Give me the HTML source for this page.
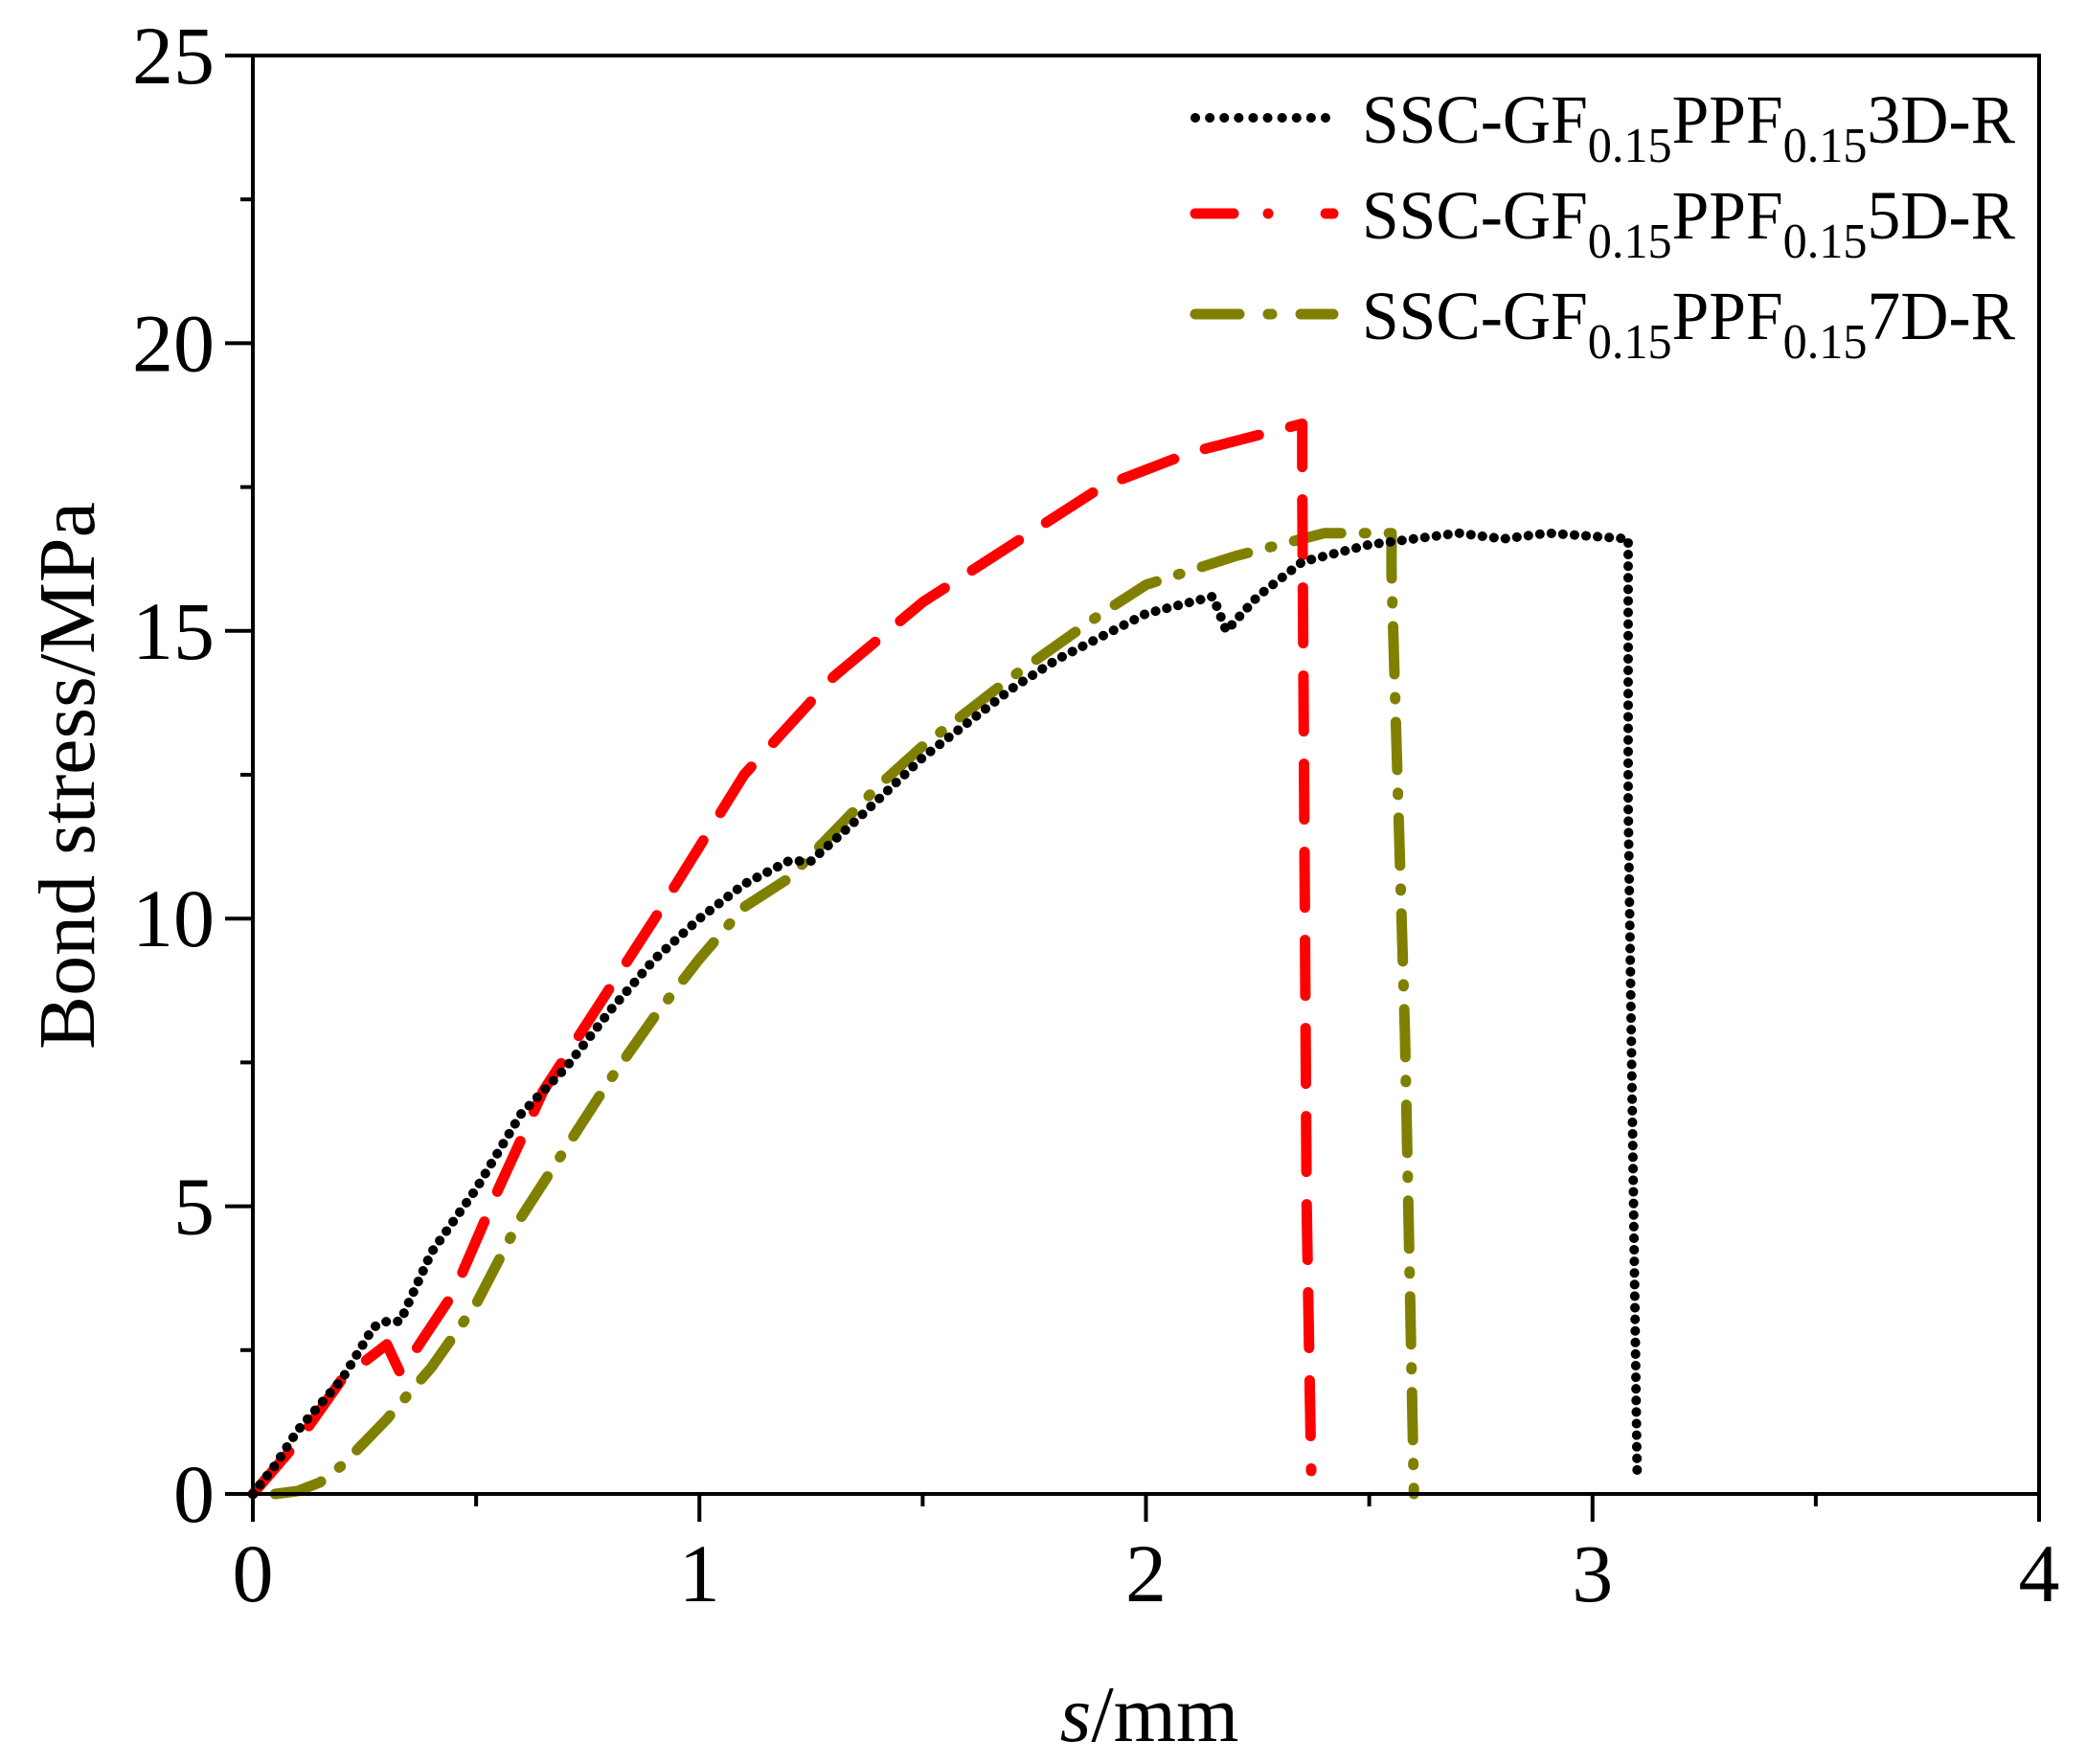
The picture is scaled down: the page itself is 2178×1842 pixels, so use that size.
<!DOCTYPE html>
<html><head><meta charset="utf-8"><style>
html,body{margin:0;padding:0;background:#fff;}
svg{display:block;font-family:"Liberation Serif",serif;}
</style></head><body>
<svg id="chart" width="2178" height="1842" viewBox="0 0 2178 1842" xmlns="http://www.w3.org/2000/svg">
<rect width="2178" height="1842" fill="#fff"/>
<g id="series"></g>
<g id="axes"></g>
<text transform="translate(98,810) rotate(-90)" text-anchor="middle" font-size="84">Bond stress/MPa</text>
<text x="1200" y="1818" text-anchor="middle" font-size="84"><tspan font-style="italic">s</tspan>/mm</text>
<g id="legend"></g>
</svg>
<script>
const xTicks=[0,1,2,3,4];
const yTicks=[0,5,10,15,20,25];
const s3x=[0,0.05,0.1,0.2,0.27,0.3,0.33,0.4,0.5,0.6,0.7,0.8,0.9,1.0,1.1,1.2,1.25,1.35,1.5,1.7,1.8,2.0,2.1,2.15,2.18,2.25,2.35,2.5,2.7,2.8,2.9,3.08,3.08,3.1];
const s3y=[0,0.5,1.1,2.0,2.9,3.0,3.0,4.2,5.3,6.6,7.4,8.4,9.3,10.0,10.6,11.0,11.0,11.7,12.8,14.0,14.5,15.3,15.5,15.6,15.0,15.6,16.2,16.5,16.7,16.6,16.7,16.6,12,0.3];
const s5x=[0,0.1,0.2,0.3,0.33,0.45,0.55,0.65,0.75,0.9,1.1,1.3,1.5,1.7,1.9,2.1,2.3,2.35,2.35,2.36,2.37];
const s5y=[0,0.9,2.0,2.6,2.1,3.5,5.3,7.0,8.2,10.0,12.5,14.2,15.5,16.5,17.5,18.1,18.5,18.6,17.5,5,0.4];
const s7x=[0.05,0.1,0.15,0.2,0.3,0.4,0.5,0.6,0.7,0.8,0.9,1.0,1.1,1.2,1.3,1.4,1.5,1.7,1.9,2.0,2.2,2.4,2.55,2.55,2.58,2.6];
const s7y=[0,0.05,0.2,0.5,1.3,2.2,3.3,4.8,6.0,7.2,8.3,9.3,10.2,10.7,11.5,12.3,13.0,14.2,15.3,15.8,16.3,16.7,16.7,16.0,8,0];
const X0=264,X1=2129,Y0=1560,Y1=58;
const xs=v=>X0+(X1-X0)*v/4;
const ys=v=>Y0-(Y0-Y1)*v/25;
const NS="http://www.w3.org/2000/svg";
function mk(tag,attrs,parent){const e=document.createElementNS(NS,tag);for(const k in attrs)e.setAttribute(k,attrs[k]);parent.appendChild(e);return e;}
const ser=document.getElementById('series');
function line(xa,ya,color,dash,w,name){
  const d=xa.map((x,i)=>(i?'L':'M')+xs(x).toFixed(1)+','+ys(ya[i]).toFixed(1)).join(' ');
  const p=mk('path',{d:d,fill:'none',stroke:color,'stroke-width':w,'stroke-dasharray':dash,'stroke-linecap':'round','stroke-linejoin':'round'},ser);
  
  
}
line(s7x,s7y,'#808000','50 24 2 24',11,'series-7d');
line(s5x,s5y,'#ff0000','58 34',11,'series-5d');
line(s3x,s3y,'#000','0.1 12',10,'series-3d');
const ax=document.getElementById('axes');
const fr=mk('rect',{x:X0,y:Y1,width:X1-X0,height:Y0-Y1,fill:'none',stroke:'#000','stroke-width':4},ax);


for(let i=0;i<xTicks.length;i++){
  const x=xs(xTicks[i]);
  mk('line',{x1:x,y1:Y0,x2:x,y2:Y0+29,stroke:'#000','stroke-width':4},ax);
  if(i<xTicks.length-1){const xm=xs(xTicks[i]+0.5);mk('line',{x1:xm,y1:Y0,x2:xm,y2:Y0+13,stroke:'#000','stroke-width':4},ax);}
  const t=mk('text',{x:x,y:1672,'text-anchor':'middle','font-size':86},ax);
  t.textContent=xTicks[i];
  
  
}
for(let i=0;i<yTicks.length;i++){
  const y=ys(yTicks[i]);
  mk('line',{x1:X0,y1:y,x2:X0-29,y2:y,stroke:'#000','stroke-width':4},ax);
  if(i<yTicks.length-1){const ym=ys(yTicks[i]+2.5);mk('line',{x1:X0,y1:ym,x2:X0-13,y2:ym,stroke:'#000','stroke-width':4},ax);}
  const t=mk('text',{x:X0-40,y:y+29,'text-anchor':'end','font-size':86},ax);
  t.textContent=yTicks[i];
  
  
}
const lg=document.getElementById('legend');
const entries=[['3','#000','0.1 15',10,123],['5','#ff0000','40 36 0.1 60',11,223],['7','#808000','46 30 4 30',11,328]];
entries.forEach(e=>{
  const g=mk('g',{},lg);
  
  
  mk('line',{x1:1248,y1:e[4],x2:1392,y2:e[4],stroke:e[1],'stroke-width':e[3],'stroke-dasharray':e[2],'stroke-linecap':'round'},g);
  const t=mk('text',{x:1422,y:e[4]+26,'font-size':72,textLength:682,lengthAdjust:'spacingAndGlyphs'},g);
  t.innerHTML='SSC-GF<tspan font-size="52" dy="20">0.15</tspan><tspan dy="-20">PPF</tspan><tspan font-size="52" dy="20">0.15</tspan><tspan dy="-20">'+e[0]+'D-R</tspan>';
});
</script>
</body></html>
